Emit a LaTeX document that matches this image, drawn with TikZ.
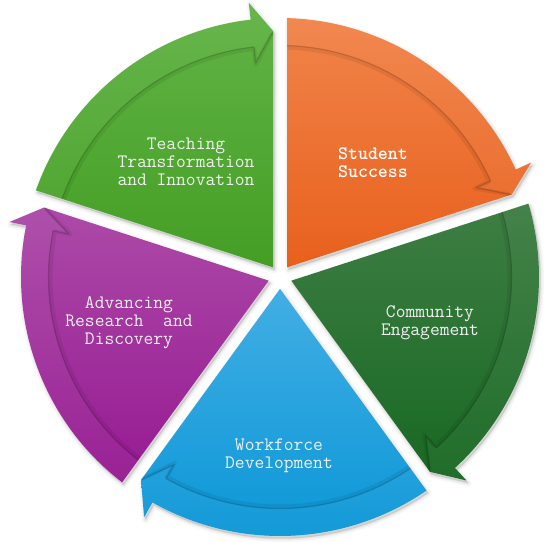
\documentclass[tikz,border=0pt]{standalone}
\usepackage{fontspec}
\definecolor{orT}{RGB}{241,132,74}
\definecolor{orB}{RGB}{232,96,28}
\definecolor{dgT}{RGB}{62,126,68}
\definecolor{dgB}{RGB}{24,104,34}
\definecolor{blT}{RGB}{66,174,228}
\definecolor{blB}{RGB}{8,150,214}
\definecolor{puT}{RGB}{172,74,168}
\definecolor{puB}{RGB}{150,26,146}
\definecolor{lgT}{RGB}{98,180,70}
\definecolor{lgB}{RGB}{68,158,36}
\begin{document}
\begin{tikzpicture}[x=1pt,y=1pt,
  lbl/.style={font=\ttfamily\fontsize{19}{18}\selectfont, text=white!94!black, align=center, inner sep=0pt}]
\useasboundingbox (0,0) rectangle (550,542);
\begin{scope}[shift={(280,265)}]
% soft shadows
\foreach \a in {90,18,-54,-126,162}{
  \foreach \w/\o in {7/0.03,4/0.04,1.5/0.05}{
    \draw[black, opacity=\o, line width=\w, line join=round, fill, shift={(1.5,-2.5)}]
      ({\a-36}:11.91) -- ({\a-1.55}:259) arc[start angle={\a-1.55}, end angle={\a-65.5}, radius=259]
      -- ({\a-65.5}:276) -- ({\a-70.4}:246) -- cycle;
  }
}
% sectors
\foreach \a/\ct/\cb in {90/orT/orB, 18/dgT/dgB, -54/blT/blB, -126/puT/puB, 162/lgT/lgB}{
  \path[top color=\ct, bottom color=\cb]
      ({\a-36}:11.91) -- ({\a-1.55}:259) arc[start angle={\a-1.55}, end angle={\a-65.5}, radius=259]
      -- ({\a-65.5}:276) -- ({\a-70.4}:246) -- cycle;
  \fill[white, opacity=0.035]
      ({\a-1.55}:259) arc[start angle={\a-1.55}, end angle={\a-65.5}, radius=259]
      -- ({\a-65.5}:276) -- ({\a-70.4}:246) -- ({\a-65.5}:216) -- ({\a-65.5}:232)
      arc[start angle={\a-65.5}, end angle={\a-1.73}, radius=232] -- cycle;
  \draw[black, opacity=0.07, line width=4, line join=round]
      ({\a-1.9}:229.5) arc[start angle={\a-1.9}, end angle={\a-65.5}, radius=229.5] -- ({\a-65.5}:213.5) -- ({\a-70.2}:244);
  \draw[black, opacity=0.16, line width=1.2, line join=round]
      ({\a-1.73}:231.5) arc[start angle={\a-1.73}, end angle={\a-65.5}, radius=231.5] -- ({\a-65.5}:215.5) -- ({\a-70.4}:245.5);
}
\end{scope}
\node[lbl] (teach) at (186,380.5) {Teaching\\Transformation\\and Innovation};
\node[lbl, font=\ttfamily\bfseries\fontsize{19}{18}\selectfont, text=white] (student) at (373,379.5) {Student\\Success};
\node[lbl] (community) at (430,219.5) {Community\\Engagement};
\node[lbl] (workforce) at (279,86) {Workforce\\Development};
\node[lbl] (research) at (129,219.5) {Advancing\\Research\ \ and\\Discovery};
\end{tikzpicture}
\end{document}
